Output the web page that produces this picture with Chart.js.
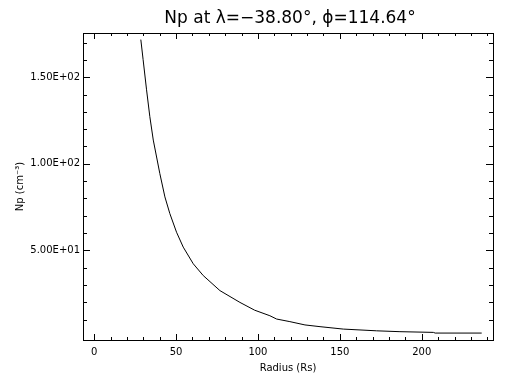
<!DOCTYPE html>
<html lang="en">
  <head>
    <meta charset="UTF-8" />
    <title>Np vs Radius</title>
    <script src="https://cdn.jsdelivr.net/npm/chart.js"></script>
    <style>
      html, body { margin: 0; padding: 0; background: #fff; }
      canvas { display: block; }
    </style>
  </head>
  <body>
    <canvas id="npChart" width="512" height="384"></canvas>
    <script>
      // values
      const radius = [28.5, 29.9, 32.0, 34.0, 36.1, 40.1, 43.2, 46.2, 50.3, 54.4, 60.5, 66.6, 76.8, 89.0, 98.0, 107.3, 111.4, 119.5, 128.7, 137.9, 152.1, 172.5, 186.7, 207.1, 208.2, 236.6];
      const density = [171.7, 160.1, 142.7, 127.2, 113.7, 94.4, 80.9, 71.3, 60.5, 51.9, 42.3, 35.5, 26.8, 20.0, 15.5, 12.3, 10.4, 8.9, 7.0, 6.0, 4.6, 3.6, 3.1, 2.7, 2.3, 2.3];
      const xTicks = [0, 50, 100, 150, 200];
      const yTicks = [50, 100, 150];
      const titleText = "Np at \u03bb=\u221238.80\u00b0, \u03d5=114.64\u00b0";

      const font = "'DejaVu Sans', 'Liberation Sans', sans-serif";

      // IDL style: closed box with inward ticks on all four sides
      const boxPlugin = {
        id: "box",
        afterDraw(chart) {
          const { ctx, chartArea: a, scales } = chart;
          ctx.save();
          ctx.strokeStyle = "#000";
          ctx.lineWidth = 1;
          ctx.strokeRect(a.left + 0.5, a.top + 0.5, a.right - a.left, a.bottom - a.top);
          ctx.beginPath();
          for (let v = 0; v <= 240; v += 10) {
            const px = Math.round(scales.x.getPixelForValue(v)) + 0.5;
            const len = v % 50 === 0 ? 6 : 3;
            ctx.moveTo(px, a.bottom);
            ctx.lineTo(px, a.bottom - len);
            ctx.moveTo(px, a.top);
            ctx.lineTo(px, a.top + len);
          }
          for (let v = 10; v <= 170; v += 10) {
            const py = Math.round(scales.y.getPixelForValue(v)) + 0.5;
            const len = v % 50 === 0 ? 7 : 4;
            ctx.moveTo(a.left, py);
            ctx.lineTo(a.left + len, py);
            ctx.moveTo(a.right, py);
            ctx.lineTo(a.right - len, py);
          }
          ctx.stroke();
          ctx.fillStyle = "#000";
          ctx.font = "17px " + font;
          ctx.textAlign = "center";
          ctx.textBaseline = "middle";
          ctx.fillText(titleText, (a.left + a.right) / 2 + 2, 19);
          ctx.restore();
        },
      };

      const ctx = document.getElementById("npChart").getContext("2d");
      new Chart(ctx, {
        type: "scatter",
        data: {
          datasets: [
            {
              data: radius.map((r, i) => ({ x: r, y: density[i] })),
              showLine: true,
              borderColor: "#000",
              borderWidth: 1,
              pointRadius: 0,
              tension: 0,
            },
          ],
        },
        options: {
          responsive: false,
          animation: false,
          layout: { padding: { top: 33, right: 19, left: 0, bottom: 0 } },
          plugins: { legend: { display: false }, tooltip: { enabled: false } },
          scales: {
            x: {
              type: "linear",
              min: -6.8,
              max: 243.5,
              grid: { display: false, drawTicks: false },
              border: { display: false },
              afterBuildTicks: (s) => { s.ticks = xTicks.map((v) => ({ value: v })); },
              afterFit: (s) => { s.height = 44; },
              ticks: {
                color: "#000",
                padding: 6,
                font: { family: font, size: 10 },
                callback: (v) => String(v),
              },
              title: {
                display: true,
                text: "Radius (Rs)",
                color: "#000",
                padding: { top: 0, bottom: 10 },
                font: { family: font, size: 10 },
              },
            },
            y: {
              type: "linear",
              min: -1.7,
              max: 175.5,
              grid: { display: false, drawTicks: false },
              border: { display: false },
              afterBuildTicks: (s) => { s.ticks = yTicks.map((v) => ({ value: v })); },
              afterFit: (s) => { s.width = 83; },
              ticks: {
                color: "#000",
                padding: 3,
                font: { family: font, size: 10 },
                callback: (v) => v.toExponential(2).replace(/e([+-])(\d)$/, "E$10$2").replace(/e/, "E"),
              },
              title: {
                display: true,
                text: "Np (cm\u207b\u00b3)",
                color: "#000",
                padding: { top: 14, bottom: 0 },
                font: { family: font, size: 10 },
              },
            },
          },
        },
        plugins: [boxPlugin],
      });
    </script>
  </body>
</html>
